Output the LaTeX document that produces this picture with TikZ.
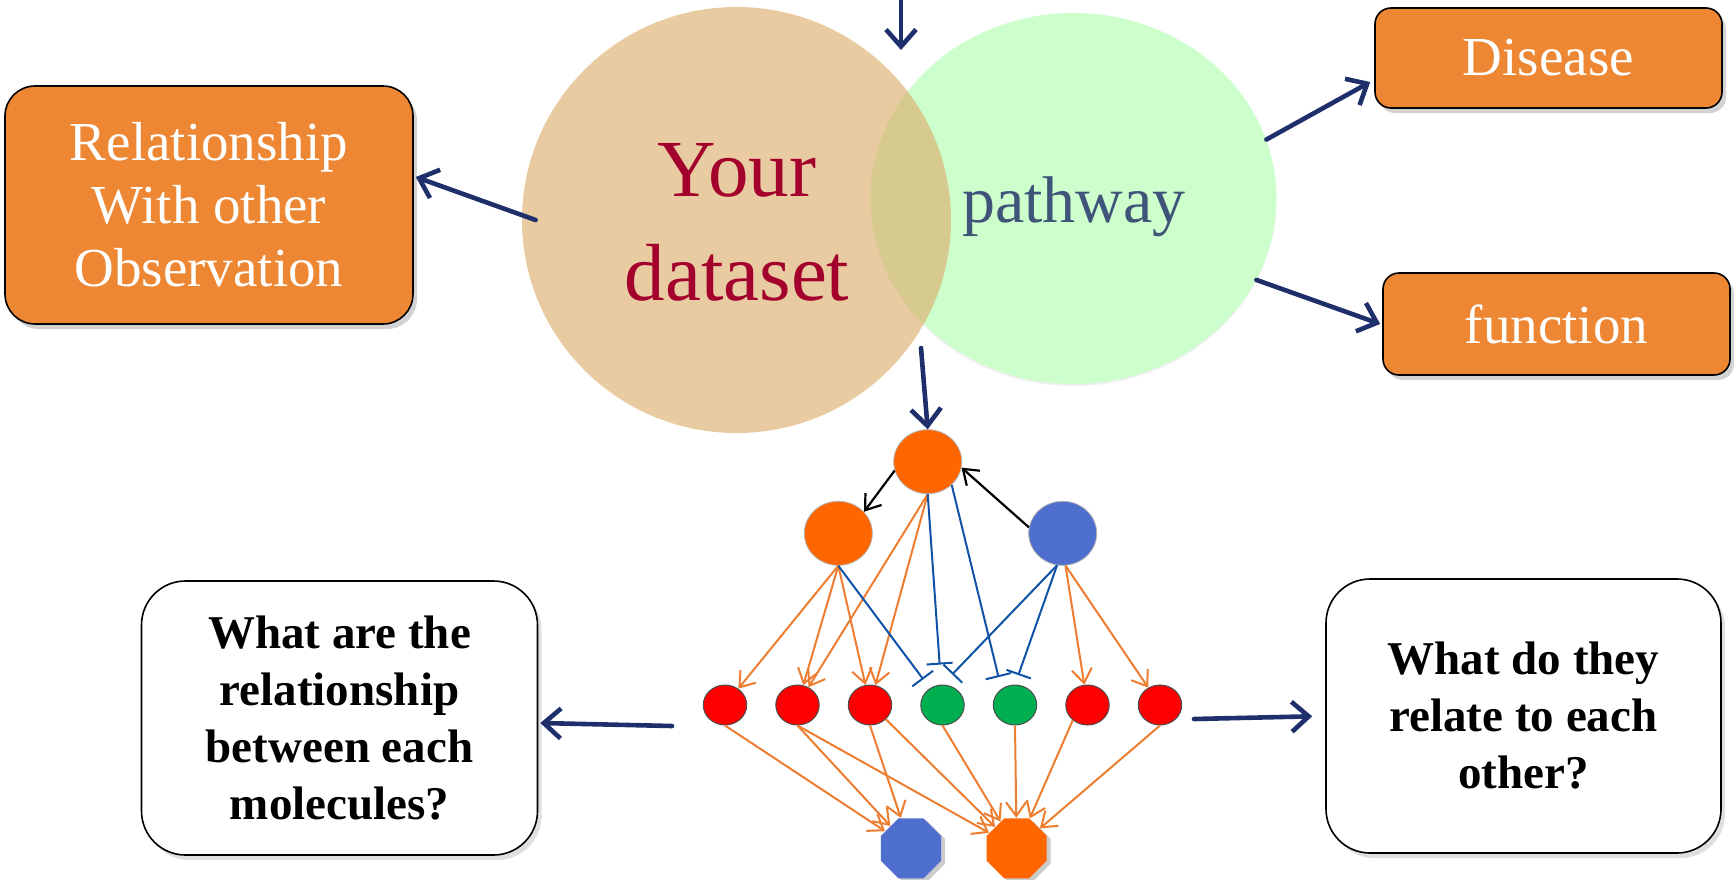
\documentclass[tikz,border=0pt]{standalone}
\usepackage{fontspec}
\setmainfont{Liberation Serif}
\usetikzlibrary{arrows.meta,shapes.geometric,shadows}

\definecolor{navy}{HTML}{1F2F6B}
\definecolor{boxorange}{HTML}{ED8733}
\definecolor{tanbase}{HTML}{DCAF6D}
\definecolor{paleGreen}{HTML}{CCFFCC}
\definecolor{wine}{HTML}{A4002E}
\definecolor{slate}{HTML}{3F5478}
\definecolor{netorange}{HTML}{FF6600}
\definecolor{netblue}{HTML}{4F6FCF}
\definecolor{netred}{HTML}{FF0000}
\definecolor{netgreen}{HTML}{00B050}
\definecolor{edgeorange}{HTML}{ED7D31}
\definecolor{inhblue}{HTML}{0F52A6}

\begin{document}
\begin{tikzpicture}[x=0.5pt,y=-0.5pt,
  navyarrow/.style={draw=navy,line width=2.3pt,line cap=round,
    -{Straight Barb[length=8.5pt,width=15pt,line width=2.3pt]}},
  obox/.style={draw=black,line width=0.8pt,fill=boxorange,text=white,align=center,
    font=\fontsize{27.5}{31.5}\selectfont,
    drop shadow={shadow xshift=2pt,shadow yshift=-2.5pt,opacity=0.35}},
  qbox/.style={draw=black,line width=0.8pt,fill=white,align=center,rounded corners=22pt,
    minimum width=198pt,minimum height=137pt,
    drop shadow={shadow xshift=2pt,shadow yshift=-2.5pt,opacity=0.25}},
  qtext/.style={align=center,font=\bfseries\fontsize{23.5}{28.5}\selectfont},
  bignode/.style={ellipse,minimum width=34pt,minimum height=32pt,draw=gray!60,line width=0.4pt},
  molnode/.style={ellipse,minimum width=21.7pt,minimum height=20pt,draw=gray!60!black,line width=0.5pt},
  octnode/.style={regular polygon,regular polygon sides=8,minimum size=32.5pt,inner sep=0pt,
    drop shadow={shadow xshift=2pt,shadow yshift=-1.5pt,opacity=0.4}},
  act/.style={draw=edgeorange,line width=1pt,
    -{Straight Barb[length=7pt,width=10pt,line width=1pt]}},
  inh/.style={draw=inhblue,line width=1pt,-{Bar[width=13pt,line width=1pt]}},
  blk/.style={draw=black,line width=1.1pt,-{Straight Barb[length=7pt,width=10pt,line width=1.1pt]}},
]
\useasboundingbox (0,0) rectangle (1734,879);

% --- the two overlapping sets ---
\node[ellipse,minimum width=203pt,minimum height=185.5pt,fill=paleGreen,inner sep=0pt,
  drop shadow={shadow xshift=0pt,shadow yshift=-1pt,opacity=0.12}] (pw) at (1073.5,198.5) {};
\node[ellipse,minimum width=214.5pt,minimum height=213pt,fill=tanbase,fill opacity=0.65,inner sep=0pt] (yd) at (736.5,220) {};

\node[text=wine,align=center,font=\fontsize{40.5}{52}\selectfont] (ydtext) at (737,222.5) {Your\\dataset};
\node[text=slate,anchor=base,font=\fontsize{33}{40}\selectfont] (pwtext) at (1074,222.7) {pathway};

% --- outcome boxes ---
\node[obox,rounded corners=15pt,minimum width=204pt,minimum height=119pt] (rel) at (209,205)
  {Relationship\\With other\\Observation};
\node[obox,rounded corners=8pt,minimum width=173.5pt,minimum height=50pt] (dis) at (1548.5,58) {Disease};
\node[obox,rounded corners=8pt,minimum width=173.5pt,minimum height=51pt] (fun) at (1556.5,324) {function};

\node[qbox] (qa) at (339.5,718) {};
\node[qtext] (qatext) at (339.5,718) {What are the\\relationship\\between each\\molecules?};
\node[qbox,minimum width=197.5pt] (qb) at (1523.5,716) {};
\node[qtext] (qbtext) at (1523.5,716) {What do they\\relate to each\\other?};

% --- network ---
\node[bignode,fill=netorange] (T) at (927.7,461.7) {};
\node[bignode,fill=netorange] (L) at (838.3,533.3) {};
\node[bignode,fill=netblue] (B) at (1062.7,533.3) {};

\node[molnode,fill=netred] (r1) at (725,705) {};
\node[molnode,fill=netred] (r2) at (797.5,705) {};
\node[molnode,fill=netred] (r3) at (870,705) {};
\node[molnode,fill=netgreen] (g1) at (942.5,705) {};
\node[molnode,fill=netgreen] (g2) at (1015,705) {};
\node[molnode,fill=netred] (r6) at (1087.5,705) {};
\node[molnode,fill=netred] (r7) at (1160,705) {};

\node[octnode,fill=netblue] (ob) at (911,848.3) {};
\node[octnode,fill=netorange] (oo) at (1016.7,848.3) {};

% black regulation arrows
\draw[blk] (T.195) -- (L.40);
\draw[blk] (B.170) -- (T.-10);

% activations from the upper layer
\draw[act] (L.south) -- (r1);
\draw[act] (L.south) -- (r2);
\draw[act] (L.south) -- (r3);
\draw[act] (T.south) -- (r2);
\draw[act] (T.south) -- (r3);
\draw[act] (B.-85) -- (r6);
\draw[act] (B.-85) -- (r7);

% inhibitions
\draw[inh,shorten >=5.5pt] (L.south) -- (g1);
\draw[inh,shorten >=10pt] (T.south) -- (g1);
\draw[inh,shorten >=6pt] (T.-44) -- (g2.130);
\draw[inh,shorten >=7pt] (B.-100) -- (g1.north);
\draw[inh,shorten >=5pt] (B.-100) -- (g2.north);

% activations onto the outputs
\draw[act] (r1.south) -- (ob);
\draw[act] (r2.south) -- (ob);
\draw[act] (r2.south) -- (oo);
\draw[act] (r3.south) -- (ob);
\draw[act] (r3.-42) -- (oo);
\draw[act] (g1.south) -- (oo);
\draw[act] (g2.south) -- (oo);
\draw[act] (r6.-134) -- (oo);
\draw[act] (r7.south) -- (oo);

% --- main flow arrows ---
\coordinate (inTop) at (901,0);
\coordinate (inEnd) at (901,50);
\coordinate (downStart) at (921,348);
\coordinate (leftStart) at (672,726);
\coordinate (rightStart) at (1194,719);

\draw[navyarrow] (inTop) -- (inEnd);
\draw[navyarrow] ([xshift=7pt]yd.180) -- ([yshift=14pt,xshift=1pt]rel.east);
\draw[navyarrow] (pw.17) -- ([yshift=-12pt,xshift=-2pt]dis.west);
\draw[navyarrow] (pw.-24) -- ([xshift=-1pt]fun.west);
\draw[navyarrow] (downStart) -- (T.north);
\draw[navyarrow] (leftStart) -- ([yshift=-2.5pt,xshift=1pt]qa.east);
\draw[navyarrow,shorten >=6.5pt] (rightStart) -- (qb.west);
\end{tikzpicture}
\end{document}
